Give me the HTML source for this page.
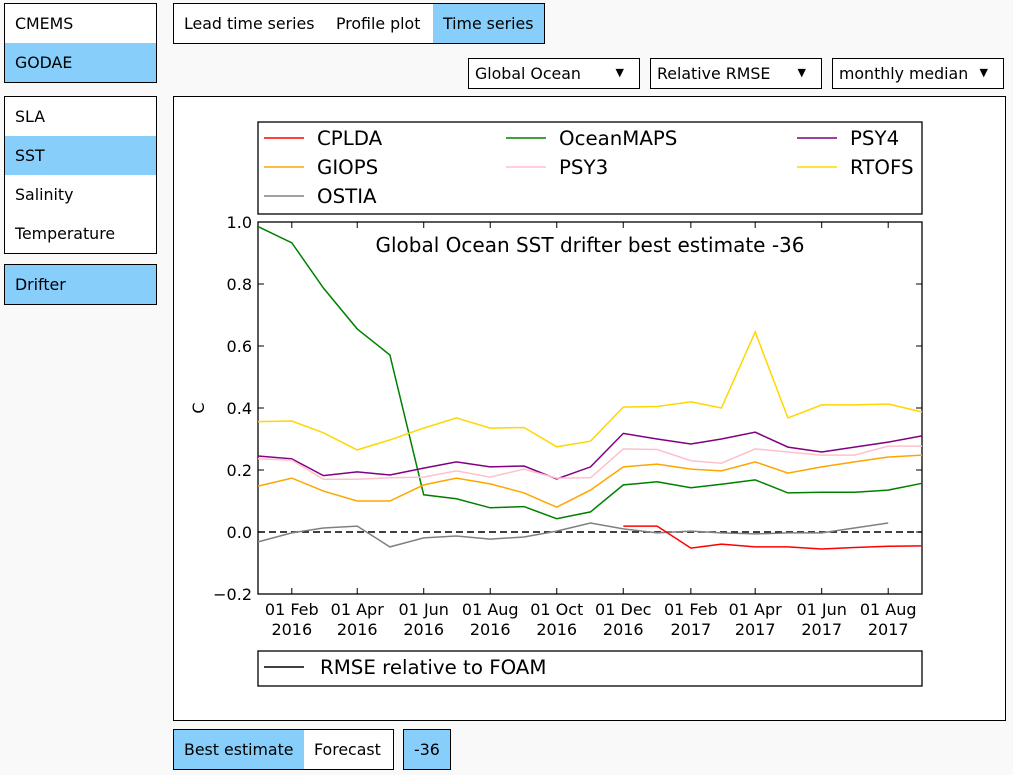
<!DOCTYPE html>
<html><head><meta charset="utf-8"><style>
body{margin:0;width:1013px;height:775px;background:#f9f9f9;font-family:"DejaVu Sans","Liberation Sans",sans-serif;font-size:15.8px;position:relative;overflow:hidden}
.box{position:absolute;border:1px solid #000;background:#fff;box-sizing:border-box}
.it{position:absolute;box-sizing:border-box;padding-left:10px;display:flex;align-items:center;cursor:pointer}
.sel{background:#87cefa}
svg{position:absolute;left:0;top:0}
</style></head><body>
<div class="box" style="left:4px;top:3px;width:153px;height:80px">
<div class="it" style="left:0;top:0;width:151px;height:39px">CMEMS</div>
<div class="it sel" style="left:0;top:39px;width:151px;height:39px">GODAE</div></div>
<div class="box" style="left:4px;top:96px;width:153px;height:158px">
<div class="it" style="left:0;top:0;width:151px;height:39px">SLA</div>
<div class="it sel" style="left:0;top:39px;width:151px;height:39px">SST</div>
<div class="it" style="left:0;top:78px;width:151px;height:39px">Salinity</div>
<div class="it" style="left:0;top:117px;width:151px;height:39px">Temperature</div></div>
<div class="box sel" style="left:4px;top:264px;width:153px;height:41px"><div class="it" style="left:0;top:0;height:39px">Drifter</div></div>
<div class="box" style="left:173px;top:3px;width:372px;height:41px">
<div class="it" style="left:0;top:0;width:152px;height:39px">Lead time series</div>
<div class="it" style="left:152px;top:0;width:107px;height:39px">Profile plot</div>
<div class="it sel" style="left:259px;top:0;width:111px;height:39px">Time series</div></div>
<div class="box" style="left:468px;top:58px;width:172px;height:31px"><div class="it" style="left:0;top:0;height:29px;padding-left:6px">Global Ocean</div><span style="position:absolute;right:15px;top:7px;font-size:11px">▼</span></div>
<div class="box" style="left:650px;top:58px;width:172px;height:31px"><div class="it" style="left:0;top:0;height:29px;padding-left:6px">Relative RMSE</div><span style="position:absolute;right:15px;top:7px;font-size:11px">▼</span></div>
<div class="box" style="left:832px;top:58px;width:172px;height:31px"><div class="it" style="left:0;top:0;height:29px;padding-left:6px">monthly median</div><span style="position:absolute;right:15px;top:7px;font-size:11px">▼</span></div>
<div class="box" style="left:173px;top:96px;width:833px;height:625px"></div>
<div class="box" style="left:173px;top:729px;width:221px;height:41px">
<div class="it sel" style="left:0;top:0;width:130px;height:39px">Best estimate</div>
<div class="it" style="left:130px;top:0;width:89px;height:39px">Forecast</div></div>
<div class="box sel" style="left:403px;top:729px;width:48px;height:41px"><div class="it" style="left:0;top:0;height:39px">-36</div></div>
<svg id="chart" width="1013" height="775" style="font-family:'DejaVu Sans','Liberation Sans',sans-serif"></svg>
<script>
const months = ["2016-01","2016-02","2016-03","2016-04","2016-05","2016-06","2016-07","2016-08","2016-09","2016-10","2016-11","2016-12","2017-01","2017-02","2017-03","2017-04","2017-05","2017-06","2017-07","2017-08","2017-09"];
const oceanmaps = [0.985,0.933,0.787,0.655,0.571,0.12,0.107,0.078,0.082,0.043,0.065,0.152,0.162,0.143,0.154,0.168,0.126,0.128,0.128,0.135,0.157];
const rtofs = [0.356,0.358,0.32,0.265,0.297,0.335,0.368,0.335,0.337,0.275,0.293,0.403,0.405,0.42,0.4,0.645,0.368,0.41,0.41,0.413,0.387];
const psy4 = [0.245,0.236,0.182,0.194,0.184,0.206,0.226,0.21,0.213,0.171,0.21,0.318,0.3,0.284,0.3,0.322,0.274,0.258,0.274,0.29,0.31];
const psy3 = [0.236,0.232,0.17,0.17,0.175,0.177,0.197,0.177,0.203,0.174,0.175,0.268,0.266,0.23,0.222,0.268,0.258,0.248,0.248,0.277,0.277];
const giops = [0.148,0.174,0.132,0.1,0.1,0.152,0.174,0.155,0.126,0.08,0.135,0.21,0.219,0.203,0.197,0.226,0.19,0.21,0.226,0.242,0.248];
const ostia = [-0.032,-0.003,0.013,0.019,-0.048,-0.019,-0.013,-0.023,-0.016,0.003,0.029,0.01,-0.003,0.003,-0.003,-0.006,-0.003,-0.003,0.013,0.029,null];
const cplda = [null,null,null,null,null,null,null,null,null,null,null,0.019,0.019,-0.052,-0.039,-0.048,-0.048,-0.055,-0.05,-0.046,-0.045];
const yTicks = [-0.2,0.0,0.2,0.4,0.6,0.8,1.0];
const xTickIdx = [1,3,5,7,9,11,13,15,17,19];
const xTickLabels = [["01 Feb","2016"],["01 Apr","2016"],["01 Jun","2016"],["01 Aug","2016"],["01 Oct","2016"],["01 Dec","2016"],["01 Feb","2017"],["01 Apr","2017"],["01 Jun","2017"],["01 Aug","2017"]];

const L=258,R=922,T=222,B=594,ymin=-0.2,ymax=1.0;
const t0=Date.UTC(2016,0,1), t1=Date.UTC(2017,8,1);
function tm(m){const [y,mo]=m.split('-').map(Number);return Date.UTC(y,mo-1,1);}
const X=m=>L+(tm(m)-t0)/(t1-t0)*(R-L);
const Y=v=>B-(v-ymin)/(ymax-ymin)*(B-T);
const svg=document.getElementById('chart');const NS='http://www.w3.org/2000/svg';
function mk(tag,at,name,txt){const e=document.createElementNS(NS,tag);for(const k in at)e.setAttribute(k,at[k]);


if(txt!==undefined)e.textContent=txt;svg.appendChild(e);return e;}
mk('rect',{x:L,y:T,width:R-L,height:B-T,fill:'#fff',stroke:'#000','stroke-width':1.3},'plot-area');
mk('line',{x1:L,x2:R,y1:Y(0),y2:Y(0),stroke:'#000','stroke-dasharray':'7,4','stroke-width':1.4},'zero-reference-line');
yTicks.forEach(v=>{const y=Y(v);
mk('line',{x1:L,x2:L+6,y1:y,y2:y,stroke:'#000'},'y-tick');
mk('line',{x1:R-6,x2:R,y1:y,y2:y,stroke:'#000'},'y-tick-right');
mk('text',{x:L-6,y:y+6,'text-anchor':'end','font-size':16},'y-tick-label',(v<0?'\u2212':'')+Math.abs(v).toFixed(1));});
xTickIdx.forEach((i,k)=>{const x=X(months[i]);
mk('line',{x1:x,x2:x,y1:B,y2:B-6,stroke:'#000'},'x-tick');
mk('line',{x1:x,x2:x,y1:T,y2:T+6,stroke:'#000'},'x-tick-top');
mk('text',{x:x,y:615,'text-anchor':'middle','font-size':16},'x-tick-label',xTickLabels[k][0]);
mk('text',{x:x,y:635,'text-anchor':'middle','font-size':16},'x-tick-year',xTickLabels[k][1]);});
mk('text',{x:204,y:408,'text-anchor':'middle','font-size':16,transform:'rotate(-90 204 408)'},'y-axis-title','C');
mk('text',{x:590,y:252,'text-anchor':'middle','font-size':20},'chart-title','Global Ocean SST drifter best estimate -36');
const series=[['oceanmaps',oceanmaps,'#008000'],['rtofs',rtofs,'#ffd700'],['psy4',psy4,'#800080'],['psy3',psy3,'#ffc0cb'],['giops',giops,'#ffa500'],['ostia',ostia,'#808080'],['cplda',cplda,'#ff0000']];
series.forEach(([n,d,c])=>{let p='';let pen=false;d.forEach((v,i)=>{if(v===null){pen=false;return;}p+=(pen?'L':'M')+X(months[i]).toFixed(1)+','+Y(v).toFixed(1);pen=true;});
mk('path',{d:p,fill:'none',stroke:c,'stroke-width':1.5},n+'-line');});
mk('rect',{x:L,y:122,width:R-L,height:92,fill:'#fff',stroke:'#000','stroke-width':1.3},'legend');
const leg=[['CPLDA','#ff0000',264,138],['OceanMAPS','#008000',506,138],['PSY4','#800080',797,138],['GIOPS','#ffa500',264,167],['PSY3','#ffc0cb',506,167],['RTOFS','#ffd700',797,167],['OSTIA','#808080',264,196]];
leg.forEach(([t,c,x,y])=>{mk('line',{x1:x,x2:x+40,y1:y,y2:y,stroke:c,'stroke-width':1.5},'legend-swatch');
mk('text',{x:x+53,y:y+7,'font-size':19.8},'legend-entry',t);});
mk('rect',{x:L,y:651,width:R-L,height:35,fill:'#fff',stroke:'#000','stroke-width':1.3},'bottom-legend');
mk('line',{x1:264,x2:304,y1:667,y2:667,stroke:'#000','stroke-width':1.5},'bottom-legend-swatch');
mk('text',{x:320,y:674,'font-size':19.8},'bottom-legend-entry','RMSE relative to FOAM');
</script>
</body></html>
